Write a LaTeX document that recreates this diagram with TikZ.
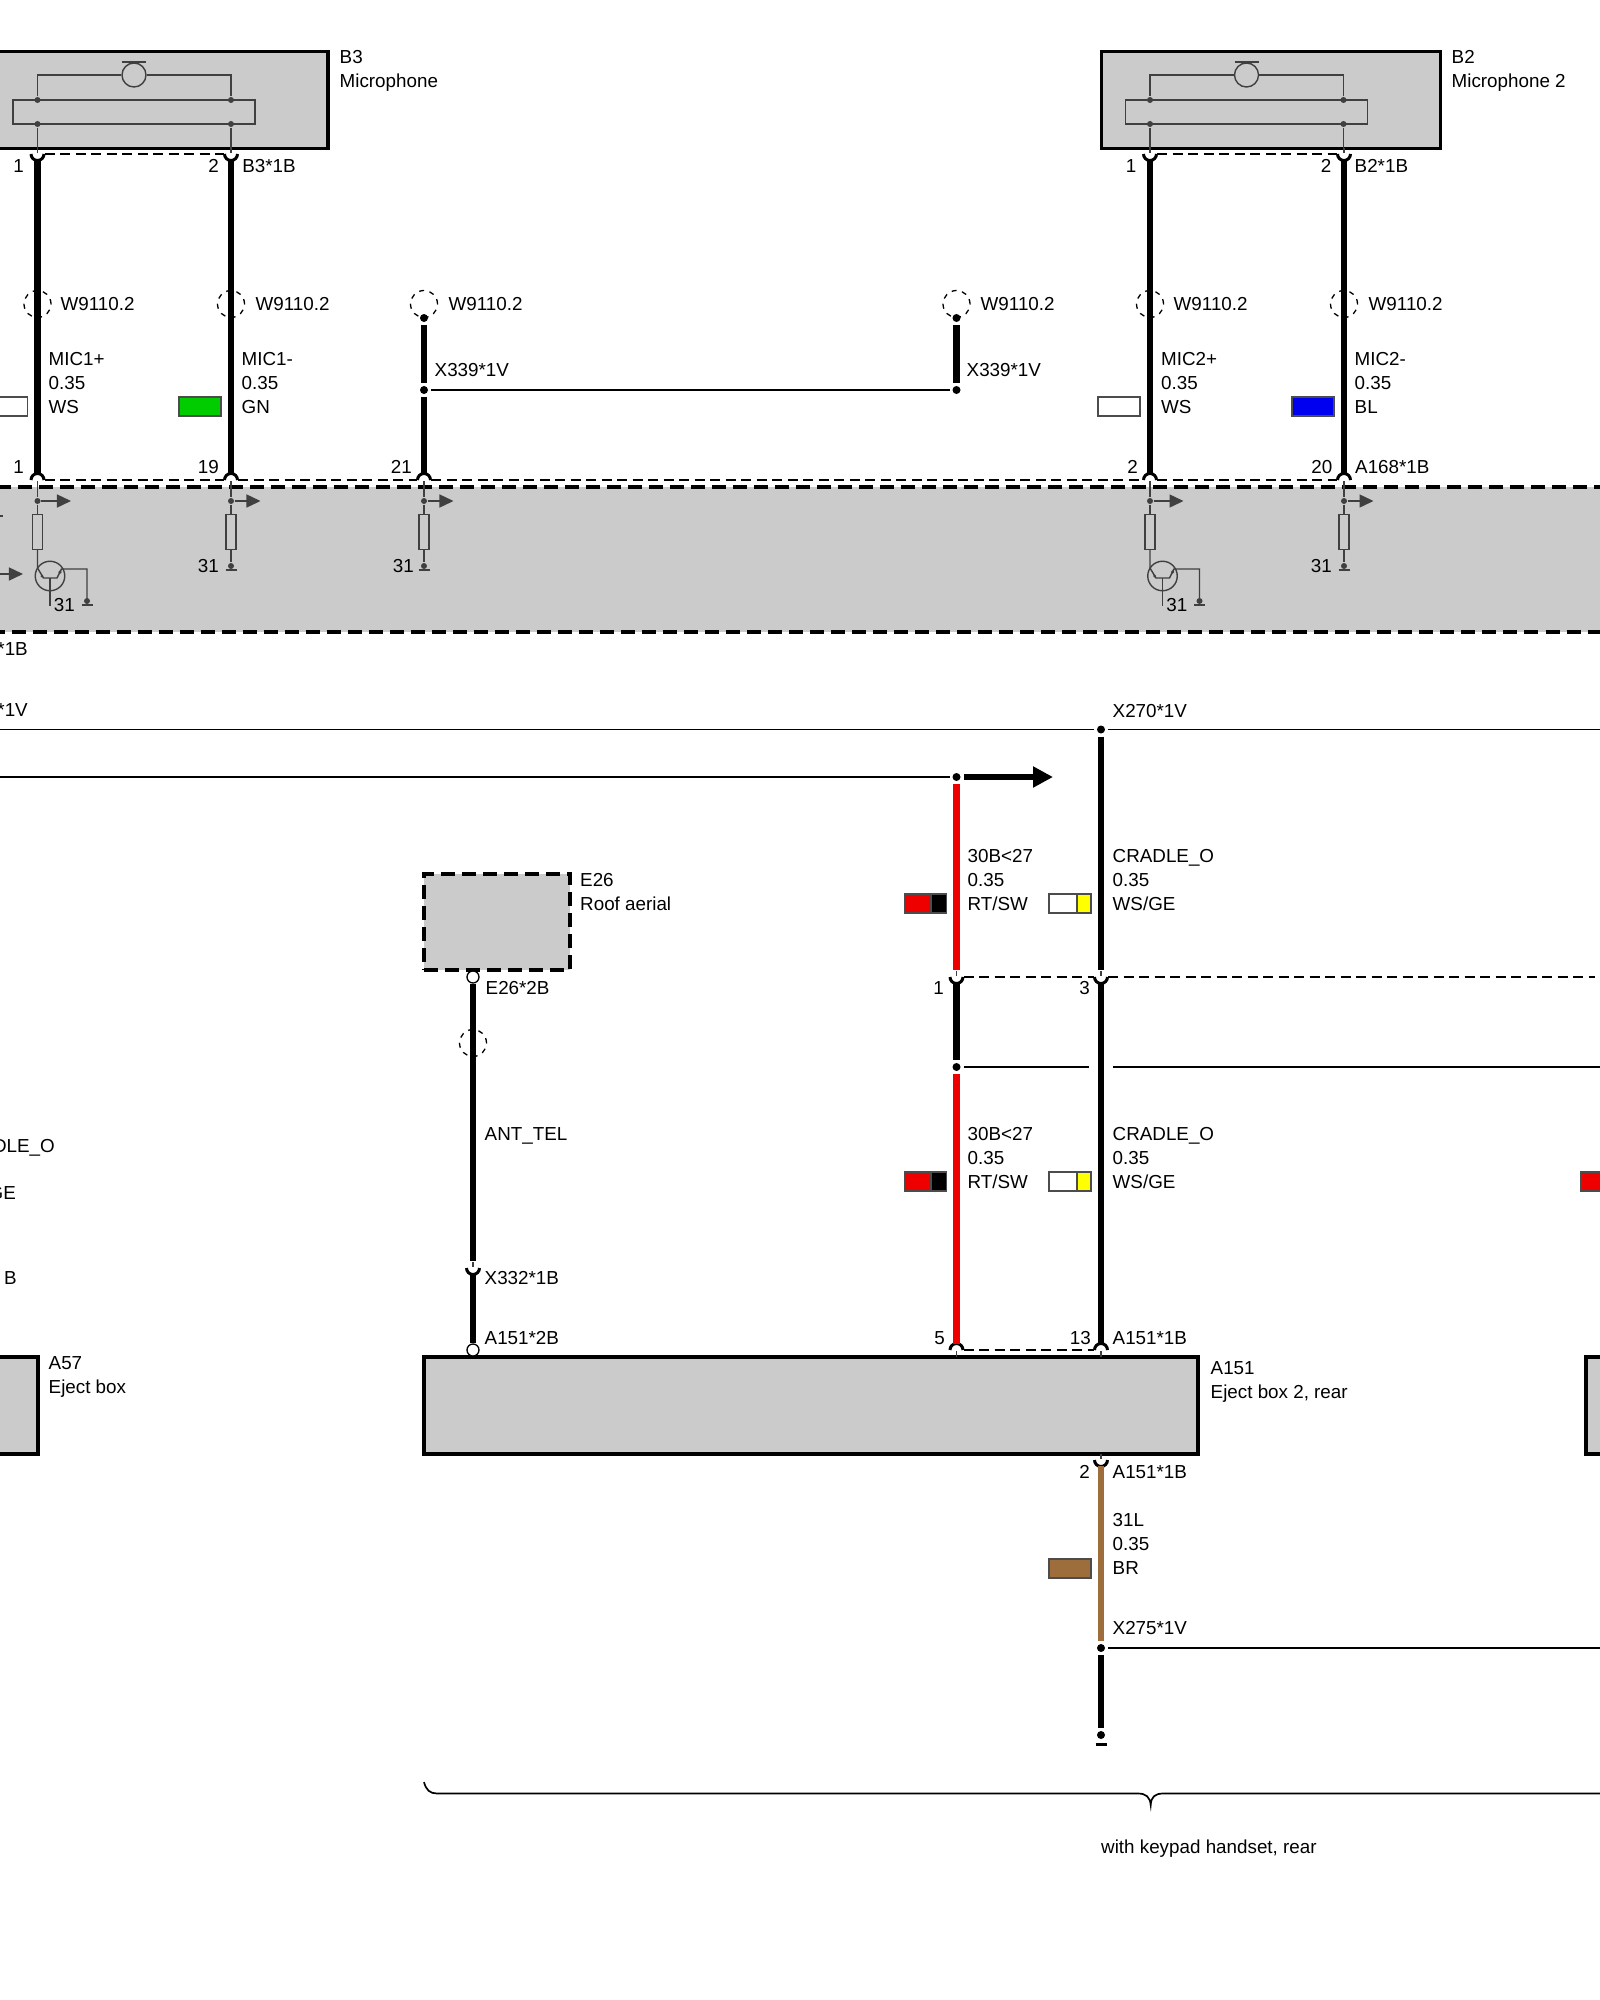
\documentclass[tikz,border=0pt]{standalone}
\usepackage{fontspec}
\setmainfont{Liberation Sans}
\usetikzlibrary{arrows.meta}
\definecolor{panel}{HTML}{CBCBCB}
\definecolor{symcol}{HTML}{404040}
\definecolor{wred}{HTML}{EE0000}
\definecolor{wbrown}{HTML}{9E6D3C}
\definecolor{wgreen}{HTML}{00CC00}
\definecolor{wblue}{HTML}{0000F0}
\definecolor{wyellow}{HTML}{FFFF00}
\tikzset{
  unit/.style     = { draw, fill=panel, line width=0.036cm, inner sep=0pt },
  unit_d/.style   = { unit, dash pattern=on 0.14cm off 0.07cm },
  wire/.style     = { line width=0.067cm, black },
  wire_r/.style   = { wire, wred },
  wire_b/.style   = { wire, wbrown },
  bus/.style      = { line width=0.017cm, black },
  pinline/.style  = { line width=0.015cm, black, dash pattern=on 0.1cm off 0.055cm },
  cupline/.style  = { line width=0.03cm, black },
  symb/.style     = { line width=0.014cm, symcol },
  swatch/.style   = { draw=black!70, line width=0.012cm },
  shield/.style   = { circle, draw, line width=0.013cm, inner sep=0pt, minimum size=0.27cm,
                      dash pattern=on 0.05cm off 0.055cm },
  pindot/.style   = { circle, fill=black, inner sep=0pt, minimum size=0.08cm, outer sep=0.03cm },
  opendot/.style  = { circle, draw, fill=white, line width=0.013cm, inner sep=0pt, minimum size=0.12cm },
  symdot/.style   = { circle, fill=symcol, inner sep=0pt, minimum size=0.06cm },
  symarrow/.style = { symb, -{Triangle[length=0.14cm,width=0.13cm]} },
  lbl/.style      = { anchor=west, inner sep=0pt, text height=3.84pt, text depth=0pt, xshift=-0.01cm,
                      font=\fontsize{5.35}{6.83}\selectfont },
  lbl_r/.style    = { lbl, anchor=east, xshift=0.035cm },
  block/.style    = { anchor=north west, inner sep=0pt, align=left, xshift=-0.01cm, yshift=0.067cm,
                      font=\fontsize{5.35}{6.83}\selectfont },
  pics/cupu/.style = { code={
    \draw[cupline] (-6.5,0) arc (180:0:6.5);
    \draw[symb] (0,-6) -- (0,-1);
    \coordinate (-s) at (0,-7);
    \coordinate (-w) at (0,6);
    \coordinate (-l) at (-7,0);
    \coordinate (-r) at (7,0);
  }},
  pics/cupn/.style = { code={
    \draw[cupline] (-6.5,0) arc (180:360:6.5);
    \draw[symb] (0,1) -- (0,7);
    \coordinate (-s) at (0,7);
    \coordinate (-w) at (0,-6);
    \coordinate (-l) at (-7,0);
    \coordinate (-r) at (7,0);
  }},
  pics/mic/.style = { code={
    \node[symdot] (-a) at (0,100) {};
    \node[symdot] (-b) at (193.5,100) {};
    \node[symdot] (-c) at (0,124) {};
    \node[symdot] (-d) at (193.5,124) {};
    \node[circle, draw=symcol, line width=0.014cm, inner sep=0pt, minimum size=0.24cm] (-m) at (96.5,75) {};
    \draw[symb] (-a) |- (-m);
    \draw[symb] (-b) |- (-m);
    \draw[symb] (84.5,62) -- (108.5,62);
    \draw[symb] (-24.5,100) rectangle (217.5,124);
    \draw[symb] (-c) -- (0,152);
    \draw[symb] (-d) -- (193.5,152);
  }},
  pics/tap/.style = { code={
    \node[symdot] (-d) at (0,501) {};
    \node[draw=symcol, line width=0.014cm, inner sep=0pt, minimum width=0.1cm, minimum height=0.35cm] (-r) at (0,532) {};
    \draw[symb] (0,481) -- (-d) -- (-r);
    \draw[symarrow] (-d) -- (#1,501);
  }},
  pics/tap/.default = 29.5,
  pics/gnd/.style = { code={
    \node[symdot] (-d) at (0,0) {};
    \draw[symb] (-5.5,4) -- (5.5,4);
  }},
  pics/npn/.style = { code={
    \node[circle, draw=symcol, line width=0.014cm, inner sep=0pt, minimum size=0.295cm] (-q) at (12.5,0) {};
    \draw[symb] (0,-26) -- (0,-8) -- (6,2) -- (19.5,2) -- (24,-7) -- (49.5,-7) -- (49.5,25);
    \draw[symb] (12.5,2) -- (12.5,30);
    \node[symdot, minimum size=0.035cm] (-e) at (22.5,-4) {};
    \node[symdot, minimum size=0.03cm] (-f) at (4.5,0) {};
  }}
}

\begin{document}
\begin{tikzpicture}[x=0.01cm,y=-0.01cm]
  \useasboundingbox (0,0) rectangle (1600,2000);
  \clip (0,0) rectangle (1600,2000);
  % Draw units
  \node[unit, minimum width=4.28cm, minimum height=0.97cm] (b3) at (114,100) {};
  \node[unit, minimum width=3.39cm, minimum height=0.97cm] (b2) at (1271,100) {};
  \node[unit_d, minimum width=16.6cm, minimum height=1.45cm] (a168) at (800,559.5) {};
  \node[unit_d, minimum width=1.46cm, minimum height=0.96cm] (e26) at (497,922) {};
  \node[unit, minimum width=1.0cm, minimum height=0.97cm] (a57) at (-12,1405.5) {};
  \node[unit, minimum width=7.74cm, minimum height=0.97cm] (a151) at (811,1405.5) {};
  \node[unit, minimum width=1.0cm, minimum height=0.97cm] (a57r) at (1636,1405.5) {};
  % Draw microphones
  \pic (m3) at (37.5,0) {mic};
  \pic (m2) at (1150,0) {mic};
  % Draw connector cups
  \pic (c1t) at (37.5,154) {cupu};
  \pic (c2t) at (231,154) {cupu};
  \pic (c3t) at (1150,154) {cupu};
  \pic (c4t) at (1344,154) {cupu};
  \pic (c1b) at (37.5,480) {cupn};
  \pic (c2b) at (231,480) {cupn};
  \pic (c5b) at (424,480) {cupn};
  \pic (c3b) at (1150,480) {cupn};
  \pic (c4b) at (1344,480) {cupn};
  \pic (k1) at (956.5,977) {cupu};
  \pic (k3) at (1101,977) {cupu};
  \pic (x332) at (473,1268) {cupu};
  \pic (k5) at (956.5,1350) {cupn};
  \pic (k13) at (1101,1350) {cupn};
  \pic (k2) at (1101,1460) {cupu};
  \draw[pinline] (c1t-r) -- (c2t-l);
  \draw[pinline] (c3t-r) -- (c4t-l);
  \draw[pinline] (c1b-r) -- (c2b-l);
  \draw[pinline] (c2b-r) -- (c5b-l);
  \draw[pinline] (c5b-r) -- (c3b-l);
  \draw[pinline] (c3b-r) -- (c4b-l);
  \coordinate (kend) at (1595,977);
  \draw[pinline] (k1-r) -- (k3-l);
  \draw[pinline] (k3-r) -- (kend);
  \draw[pinline] (k5-r) -- (k13-l);
  % Draw upper wires
  \draw[wire] (c1t-w) -- (c1b-w);
  \draw[wire] (c2t-w) -- (c2b-w);
  \draw[wire] (c3t-w) -- (c3b-w);
  \draw[wire] (c4t-w) -- (c4b-w);
  \node[pindot] (x339a) at (424,318) {};
  \node[pindot] (x339b) at (424,390) {};
  \node[pindot] (x339c) at (956.5,318) {};
  \node[pindot] (x339d) at (956.5,390) {};
  \draw[wire] (x339a) -- (x339b);
  \draw[wire] (x339b) -- (c5b-w);
  \draw[wire] (x339c) -- (x339d);
  \draw[bus] (x339b) -- (x339d);
  % Draw shields
  \node[shield] (s1) at (37.5,304) {};
  \node[shield] (s2) at (231,304) {};
  \node[shield] (s3) at (424,304) {};
  \node[shield] (s4) at (956.5,304) {};
  \node[shield] (s5) at (1150,304) {};
  \node[shield] (s6) at (1344,304) {};
  \node[shield] (s7) at (473,1043) {};
  % Draw inner circuits
  \pic (t1) at (37.5,0) {tap=33.5};
  \pic (t2) at (231,0) {tap};
  \pic (t3) at (424,0) {tap};
  \pic (t4) at (1150,0) {tap=33.5};
  \pic (t5) at (1344,0) {tap};
  \pic (q1) at (37.5,576) {npn};
  \pic (q2) at (1150,576) {npn};
  \pic (g1) at (87,601) {gnd};
  \pic (g2) at (1199.5,601) {gnd};
  \pic (g3) at (231,566) {gnd};
  \pic (g4) at (424,566) {gnd};
  \pic (g5) at (1344,566) {gnd};
  \draw[symb] (t2-r) -- (g3-d);
  \draw[symb] (t3-r) -- (g4-d);
  \draw[symb] (t5-r) -- (g5-d);
  \coordinate (qin) at (0,574);
  \coordinate (qtip) at (23,574);
  \draw[symarrow] (qin) -- (qtip);
  \coordinate (tin) at (0,516);
  \coordinate (tout) at (3,516);
  \draw[symb] (tin) -- (tout);
  % Draw lower wires
  \coordinate (bus1l) at (0,729.5);
  \coordinate (bus1r) at (1600,729.5);
  \coordinate (bus2l) at (0,777);
  \coordinate (arrowend) at (1053,777);
  \coordinate (bus3a) at (1089,1067);
  \coordinate (bus3b) at (1113,1067);
  \coordinate (bus3r) at (1600,1067);
  \coordinate (bus4r) at (1600,1648);
  \node[pindot] (x270) at (1101,729.5) {};
  \node[pindot] (sp30) at (956.5,777) {};
  \node[pindot] (sp31) at (956.5,1067) {};
  \node[pindot] (x275) at (1101,1648) {};
  \node[pindot] (gnd2) at (1101,1735) {};
  \draw[bus] (bus1l) -- (x270);
  \draw[bus] (x270) -- (bus1r);
  \draw[bus] (bus2l) -- (sp30);
  \draw[bus] (sp31) -- (bus3a);
  \draw[bus] (bus3b) -- (bus3r);
  \draw[bus] (x275) -- (bus4r);
  \draw[wire, -{Triangle[length=0.2cm,width=0.2cm]}] (sp30) -- (arrowend);
  \draw[wire_r] (sp30) -- (k1-s);
  \draw[wire] (k1-w) -- (sp31);
  \draw[wire_r] (sp31) -- (k5-w);
  \draw[wire] (x270) -- (k3-s);
  \draw[wire] (k3-w) -- (k13-w);
  \draw[wire_b] (k2-w) -- (x275);
  \draw[wire] (x275) -- (gnd2);
  \draw[line width=0.03cm] (1095.5,1744) -- (1106.5,1744);
  \node[opendot] (e26p) at (473,977) {};
  \node[opendot] (a151p) at (473,1350) {};
  \draw[wire] (e26p) -- (x332-s);
  \draw[wire] (x332-w) -- (a151p);
  % Draw colour swatches
  \draw[swatch, fill=white] (-14.5,397) rectangle (27.5,416);
  \draw[swatch, fill=wgreen] (179,397) rectangle (221,416);
  \draw[swatch, fill=white] (1098,397) rectangle (1140,416);
  \draw[swatch, fill=wblue] (1292,397) rectangle (1334,416);
  \draw[swatch, fill=wred] (904.5,894) rectangle (931,913);
  \draw[swatch, fill=black] (931,894) rectangle (946.5,913);
  \draw[swatch, fill=white] (1049,894) rectangle (1077,913);
  \draw[swatch, fill=wyellow] (1077,894) rectangle (1091,913);
  \draw[swatch, fill=wred] (904.5,1172) rectangle (931,1191);
  \draw[swatch, fill=black] (931,1172) rectangle (946.5,1191);
  \draw[swatch, fill=white] (1049,1172) rectangle (1077,1191);
  \draw[swatch, fill=wyellow] (1077,1172) rectangle (1091,1191);
  \draw[swatch, fill=wred] (1581,1172) rectangle (1610,1191);
  \draw[swatch, fill=wbrown] (1049,1559) rectangle (1091,1578);
  % Draw brace
  \draw[bus] (424,1782) .. controls (426,1790) and (430,1793.5) .. (437,1793.5) -- (1138,1793.5)
    .. controls (1146,1793.5) and (1150,1797) .. (1150.7,1805)
    .. controls (1151,1797) and (1155,1793.5) .. (1163,1793.5) -- (1600,1793.5);
  % Draw labels
  \node[block] (tb3) at (340,56) {B3\\Microphone};
  \node[block] (tb2) at (1452,56) {B2\\Microphone 2};
  \node[lbl] (tb3p) at (242.7,166) {B3*1B};
  \node[lbl] (tb2p) at (1355,166) {B2*1B};
  \node[lbl_r] (n1) at (22,166) {1};
  \node[lbl_r] (n2) at (217,166) {2};
  \node[lbl_r] (n3) at (1134.5,166) {1};
  \node[lbl_r] (n4) at (1329.5,166) {2};
  \node[lbl] (w1) at (61,304) {W9110.2};
  \node[lbl] (w2) at (256,304) {W9110.2};
  \node[lbl] (w3) at (449,304) {W9110.2};
  \node[lbl] (w4) at (981,304) {W9110.2};
  \node[lbl] (w5) at (1174,304) {W9110.2};
  \node[lbl] (w6) at (1369,304) {W9110.2};
  \node[block] (mic1p) at (49,358.5) {MIC1+\\0.35\\WS};
  \node[block] (mic1m) at (242,358.5) {MIC1-\\0.35\\GN};
  \node[block] (mic2p) at (1161.5,358.5) {MIC2+\\0.35\\WS};
  \node[block] (mic2m) at (1355,358.5) {MIC2-\\0.35\\BL};
  \node[lbl] (x1) at (435,370) {X339*1V};
  \node[lbl] (x2) at (967,370) {X339*1V};
  \node[lbl_r] (n5) at (22,467) {1};
  \node[lbl_r] (n6) at (217,467) {19};
  \node[lbl_r] (n7) at (410,467) {21};
  \node[lbl_r] (n8) at (1136,467) {2};
  \node[lbl_r] (n9) at (1330.5,467) {20};
  \node[lbl] (ta168) at (1355.5,467) {A168*1B};
  \node[lbl_r] (r1) at (73,605) {31};
  \node[lbl_r] (r2) at (217,566) {31};
  \node[lbl_r] (r3) at (412,566) {31};
  \node[lbl_r] (r4) at (1185.5,605) {31};
  \node[lbl_r] (r5) at (1330,566) {31};
  \node[lbl_r] (f1) at (26,649) {*1B};
  \node[lbl_r] (f2) at (26,710) {*1V};
  \node[lbl_r] (f3) at (53,1146) {DLE\_O};
  \node[lbl_r] (f4) at (14,1193) {GE};
  \node[lbl_r] (f5) at (15,1278) {B};
  \node[lbl] (tx270) at (1113,711) {X270*1V};
  \node[block] (tw30a) at (968,855) {30B<27\\0.35\\RT/SW};
  \node[block] (tcr1) at (1113,855) {CRADLE\_O\\0.35\\WS/GE};
  \node[block] (tw30b) at (968,1133) {30B<27\\0.35\\RT/SW};
  \node[block] (tcr2) at (1113,1133) {CRADLE\_O\\0.35\\WS/GE};
  \node[block] (te26) at (580.5,879) {E26\\Roof aerial};
  \node[lbl] (te26p) at (486,988) {E26*2B};
  \node[lbl] (tant) at (485,1134) {ANT\_TEL};
  \node[lbl] (tx332) at (485,1278) {X332*1B};
  \node[lbl] (ta151a) at (485,1338) {A151*2B};
  \node[lbl_r] (n10) at (942,988) {1};
  \node[lbl_r] (n11) at (1088,988) {3};
  \node[lbl_r] (n12) at (943,1338) {5};
  \node[lbl_r] (n13) at (1089,1338) {13};
  \node[lbl] (ta151b) at (1113,1338) {A151*1B};
  \node[block] (ta57) at (49,1363) {A57\\Eject box};
  \node[block] (ta151) at (1211,1368) {A151\\Eject box 2, rear};
  \node[lbl_r] (n14) at (1088,1472) {2};
  \node[lbl] (ta151c) at (1113,1472) {A151*1B};
  \node[block] (t31l) at (1113,1519.5) {31L\\0.35\\BR};
  \node[lbl] (tx275) at (1113,1628) {X275*1V};
  \node[lbl] (tkey) at (1101.5,1847) {with keypad handset, rear};
\end{tikzpicture}
\end{document}
